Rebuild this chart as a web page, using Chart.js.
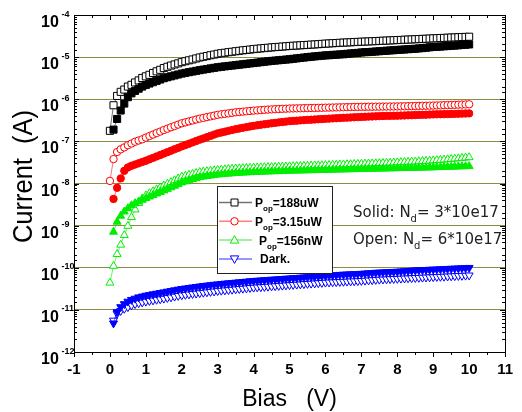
<!DOCTYPE html>
<html>
<head>
<meta charset="utf-8">
<script src="https://cdn.jsdelivr.net/npm/chart.js@4.4.1/dist/chart.umd.min.js"></script>
<style>
  html, body { margin: 0; padding: 0; background: #fff; }
  #wrap { width: 522px; height: 412px; }
</style>
</head>
<body>
<div id="wrap"><canvas id="grafico" width="522" height="412"></canvas></div>
<script>
// ===== DADOS =====
const bias = [
  0, 0.1, 0.2, 0.3, 0.4, 0.5, 0.6, 0.7, 0.8, 0.9,
  1, 1.1, 1.2, 1.3, 1.4, 1.5, 1.6, 1.7, 1.8, 1.9,
  2, 2.1, 2.2, 2.3, 2.4, 2.5, 2.6, 2.7, 2.8, 2.9,
  3, 3.1, 3.2, 3.3, 3.4, 3.5, 3.6, 3.7, 3.8, 3.9,
  4, 4.1, 4.2, 4.3, 4.4, 4.5, 4.6, 4.7, 4.8, 4.9,
  5, 5.1, 5.2, 5.3, 5.4, 5.5, 5.6, 5.7, 5.8, 5.9,
  6, 6.1, 6.2, 6.3, 6.4, 6.5, 6.6, 6.7, 6.8, 6.9,
  7, 7.1, 7.2, 7.3, 7.4, 7.5, 7.6, 7.7, 7.8, 7.9,
  8, 8.1, 8.2, 8.3, 8.4, 8.5, 8.6, 8.7, 8.8, 8.9,
  9, 9.1, 9.2, 9.3, 9.4, 9.5, 9.6, 9.7, 9.8, 9.9,
  10
];

// P_op = 188uW, aberto (Nd = 6*10e17)
const aberto188 = [
  1.78e-7, 7.2e-7, 1.2e-6, 1.5e-6, 1.7e-6, 2.0e-6, 2.2e-6, 2.5e-6, 2.8e-6, 3.2e-6,
  3.5e-6, 3.8e-6, 4.2e-6, 4.6e-6, 5.0e-6, 5.5e-6, 5.9e-6, 6.3e-6, 6.7e-6, 7.1e-6,
  7.6e-6, 8.0e-6, 8.4e-6, 8.8e-6, 9.3e-6, 9.8e-6, 1.02e-5, 1.06e-5, 1.11e-5, 1.15e-5,
  1.2e-5, 1.24e-5, 1.27e-5, 1.31e-5, 1.34e-5, 1.38e-5, 1.41e-5, 1.45e-5, 1.48e-5, 1.51e-5,
  1.55e-5, 1.58e-5, 1.61e-5, 1.64e-5, 1.67e-5, 1.70e-5, 1.73e-5, 1.75e-5, 1.78e-5, 1.81e-5,
  1.84e-5, 1.86e-5, 1.88e-5, 1.91e-5, 1.93e-5, 1.95e-5, 1.98e-5, 2.00e-5, 2.03e-5, 2.06e-5,
  2.09e-5, 2.11e-5, 2.14e-5, 2.16e-5, 2.19e-5, 2.21e-5, 2.23e-5, 2.25e-5, 2.28e-5, 2.30e-5,
  2.32e-5, 2.34e-5, 2.36e-5, 2.38e-5, 2.40e-5, 2.43e-5, 2.45e-5, 2.47e-5, 2.49e-5, 2.52e-5,
  2.54e-5, 2.56e-5, 2.59e-5, 2.61e-5, 2.63e-5, 2.66e-5, 2.68e-5, 2.71e-5, 2.73e-5, 2.76e-5,
  2.79e-5, 2.81e-5, 2.84e-5, 2.86e-5, 2.89e-5, 2.92e-5, 2.94e-5, 2.97e-5, 3.00e-5, 3.02e-5,
  3.05e-5
];
// P_op = 188uW, sólido (Nd = 3*10e17)
const solido188 = [
  null, 1.9e-7, 3.4e-7, 5.4e-7, 7.9e-7, 1.12e-6, 1.38e-6, 1.58e-6, 1.78e-6, 2.0e-6,
  2.19e-6, 2.36e-6, 2.54e-6, 2.73e-6, 2.94e-6, 3.16e-6, 3.33e-6, 3.50e-6, 3.68e-6, 3.87e-6,
  4.07e-6, 4.23e-6, 4.39e-6, 4.55e-6, 4.72e-6, 4.90e-6, 5.06e-6, 5.22e-6, 5.40e-6, 5.57e-6,
  5.75e-6, 5.89e-6, 6.03e-6, 6.17e-6, 6.31e-6, 6.46e-6, 6.61e-6, 6.76e-6, 6.92e-6, 7.08e-6,
  7.24e-6, 7.41e-6, 7.59e-6, 7.76e-6, 7.94e-6, 8.13e-6, 8.28e-6, 8.43e-6, 8.59e-6, 8.75e-6,
  8.91e-6, 9.12e-6, 9.33e-6, 9.55e-6, 9.77e-6, 1.00e-5, 1.02e-5, 1.04e-5, 1.06e-5, 1.08e-5,
  1.10e-5, 1.11e-5, 1.13e-5, 1.14e-5, 1.16e-5, 1.17e-5, 1.20e-5, 1.22e-5, 1.24e-5, 1.26e-5,
  1.29e-5, 1.31e-5, 1.32e-5, 1.34e-5, 1.36e-5, 1.38e-5, 1.40e-5, 1.42e-5, 1.44e-5, 1.46e-5,
  1.48e-5, 1.50e-5, 1.52e-5, 1.54e-5, 1.56e-5, 1.58e-5, 1.61e-5, 1.64e-5, 1.67e-5, 1.71e-5,
  1.74e-5, 1.76e-5, 1.78e-5, 1.81e-5, 1.83e-5, 1.86e-5, 1.88e-5, 1.91e-5, 1.94e-5, 1.97e-5,
  2.00e-5
];
// P_op = 3.15uW
const aberto315 = [
  1.15e-8, 3.8e-8, 5.6e-8, 6.5e-8, 7.2e-8, 8.1e-8, 8.9e-8, 9.8e-8, 1.05e-7, 1.12e-7,
  1.23e-7, 1.34e-7, 1.45e-7, 1.58e-7, 1.71e-7, 1.86e-7, 2.00e-7, 2.16e-7, 2.32e-7, 2.50e-7,
  2.69e-7, 2.83e-7, 2.98e-7, 3.13e-7, 3.30e-7, 3.47e-7, 3.61e-7, 3.77e-7, 3.93e-7, 4.09e-7,
  4.27e-7, 4.39e-7, 4.51e-7, 4.63e-7, 4.76e-7, 4.90e-7, 4.99e-7, 5.08e-7, 5.18e-7, 5.27e-7,
  5.37e-7, 5.45e-7, 5.52e-7, 5.60e-7, 5.68e-7, 5.75e-7, 5.81e-7, 5.86e-7, 5.92e-7, 5.97e-7,
  6.03e-7, 6.06e-7, 6.08e-7, 6.11e-7, 6.14e-7, 6.17e-7, 6.20e-7, 6.22e-7, 6.25e-7, 6.28e-7,
  6.31e-7, 6.34e-7, 6.37e-7, 6.40e-7, 6.43e-7, 6.46e-7, 6.49e-7, 6.52e-7, 6.55e-7, 6.58e-7,
  6.61e-7, 6.62e-7, 6.64e-7, 6.65e-7, 6.67e-7, 6.68e-7, 6.70e-7, 6.71e-7, 6.73e-7, 6.74e-7,
  6.76e-7, 6.79e-7, 6.82e-7, 6.85e-7, 6.88e-7, 6.92e-7, 6.95e-7, 6.98e-7, 7.01e-7, 7.05e-7,
  7.08e-7, 7.13e-7, 7.18e-7, 7.23e-7, 7.28e-7, 7.33e-7, 7.38e-7, 7.43e-7, 7.48e-7, 7.53e-7,
  7.59e-7
];
const solido315 = [
  null, 4.3e-9, 7.9e-9, 1.32e-8, 2.0e-8, 2.4e-8, 2.63e-8, 2.82e-8, 3.02e-8, 3.24e-8,
  3.47e-8, 3.75e-8, 4.06e-8, 4.39e-8, 4.74e-8, 5.13e-8, 5.55e-8, 6.00e-8, 6.49e-8, 7.01e-8,
  7.59e-8, 8.17e-8, 8.79e-8, 9.46e-8, 1.02e-7, 1.10e-7, 1.17e-7, 1.26e-7, 1.35e-7, 1.45e-7,
  1.55e-7, 1.62e-7, 1.70e-7, 1.78e-7, 1.86e-7, 1.95e-7, 2.02e-7, 2.10e-7, 2.18e-7, 2.26e-7,
  2.34e-7, 2.41e-7, 2.48e-7, 2.55e-7, 2.62e-7, 2.69e-7, 2.75e-7, 2.82e-7, 2.88e-7, 2.95e-7,
  3.02e-7, 3.06e-7, 3.10e-7, 3.15e-7, 3.19e-7, 3.24e-7, 3.27e-7, 3.31e-7, 3.35e-7, 3.39e-7,
  3.43e-7, 3.47e-7, 3.51e-7, 3.55e-7, 3.59e-7, 3.63e-7, 3.66e-7, 3.70e-7, 3.73e-7, 3.77e-7,
  3.80e-7, 3.84e-7, 3.87e-7, 3.91e-7, 3.94e-7, 3.98e-7, 4.00e-7, 4.02e-7, 4.04e-7, 4.06e-7,
  4.07e-7, 4.10e-7, 4.13e-7, 4.16e-7, 4.18e-7, 4.22e-7, 4.25e-7, 4.27e-7, 4.30e-7, 4.33e-7,
  4.37e-7, 4.39e-7, 4.41e-7, 4.43e-7, 4.45e-7, 4.47e-7, 4.50e-7, 4.53e-7, 4.56e-7, 4.59e-7,
  4.62e-7
];
// P_op = 156nW
const aberto156 = [
  4.4e-11, 1.10e-10, 2.1e-10, 3.5e-10, 5.9e-10, 9.8e-10, 1.58e-9, 2.4e-9, 3.4e-9, 4.4e-9,
  5.2e-9, 5.83e-9, 6.49e-9, 7.21e-9, 8.02e-9, 8.91e-9, 9.82e-9, 1.08e-8, 1.19e-8, 1.31e-8,
  1.45e-8, 1.52e-8, 1.60e-8, 1.68e-8, 1.77e-8, 1.86e-8, 1.91e-8, 1.95e-8, 2.00e-8, 2.04e-8,
  2.09e-8, 2.12e-8, 2.16e-8, 2.19e-8, 2.23e-8, 2.26e-8, 2.28e-8, 2.30e-8, 2.33e-8, 2.35e-8,
  2.37e-8, 2.39e-8, 2.40e-8, 2.42e-8, 2.44e-8, 2.45e-8, 2.47e-8, 2.49e-8, 2.50e-8, 2.52e-8,
  2.54e-8, 2.56e-8, 2.58e-8, 2.59e-8, 2.61e-8, 2.63e-8, 2.65e-8, 2.67e-8, 2.69e-8, 2.70e-8,
  2.72e-8, 2.74e-8, 2.76e-8, 2.78e-8, 2.80e-8, 2.82e-8, 2.84e-8, 2.86e-8, 2.88e-8, 2.90e-8,
  2.92e-8, 2.94e-8, 2.96e-8, 2.98e-8, 3.00e-8, 3.02e-8, 3.05e-8, 3.08e-8, 3.10e-8, 3.13e-8,
  3.16e-8, 3.19e-8, 3.22e-8, 3.25e-8, 3.28e-8, 3.31e-8, 3.35e-8, 3.39e-8, 3.43e-8, 3.47e-8,
  3.51e-8, 3.56e-8, 3.62e-8, 3.68e-8, 3.74e-8, 3.80e-8, 3.87e-8, 3.94e-8, 4.02e-8, 4.09e-8,
  4.17e-8
];
const solido156 = [
  null, 7.1e-10, 1.23e-9, 1.70e-9, 2.14e-9, 2.57e-9, 3.02e-9, 3.39e-9, 3.72e-9, 4.07e-9,
  4.47e-9, 4.85e-9, 5.27e-9, 5.73e-9, 6.22e-9, 6.76e-9, 7.38e-9, 8.05e-9, 8.79e-9, 9.59e-9,
  1.05e-8, 1.11e-8, 1.18e-8, 1.25e-8, 1.33e-8, 1.41e-8, 1.45e-8, 1.49e-8, 1.53e-8, 1.58e-8,
  1.62e-8, 1.65e-8, 1.68e-8, 1.70e-8, 1.73e-8, 1.76e-8, 1.78e-8, 1.80e-8, 1.82e-8, 1.84e-8,
  1.86e-8, 1.87e-8, 1.89e-8, 1.90e-8, 1.91e-8, 1.93e-8, 1.94e-8, 1.95e-8, 1.97e-8, 1.98e-8,
  2.00e-8, 2.00e-8, 2.01e-8, 2.02e-8, 2.03e-8, 2.04e-8, 2.05e-8, 2.06e-8, 2.07e-8, 2.08e-8,
  2.09e-8, 2.10e-8, 2.11e-8, 2.12e-8, 2.13e-8, 2.14e-8, 2.15e-8, 2.16e-8, 2.17e-8, 2.18e-8,
  2.19e-8, 2.20e-8, 2.21e-8, 2.22e-8, 2.23e-8, 2.24e-8, 2.25e-8, 2.26e-8, 2.27e-8, 2.28e-8,
  2.29e-8, 2.30e-8, 2.31e-8, 2.32e-8, 2.33e-8, 2.34e-8, 2.35e-8, 2.36e-8, 2.37e-8, 2.39e-8,
  2.40e-8, 2.42e-8, 2.43e-8, 2.45e-8, 2.47e-8, 2.48e-8, 2.50e-8, 2.52e-8, 2.54e-8, 2.55e-8,
  2.57e-8
];
// Escuro (Dark.)
const abertoDark = [
  null, 5.6e-12, 8.1e-12, 9.5e-12, 1.07e-11, 1.17e-11, 1.29e-11, 1.38e-11, 1.45e-11, 1.51e-11,
  1.58e-11, 1.64e-11, 1.69e-11, 1.75e-11, 1.80e-11, 1.86e-11, 1.93e-11, 2.00e-11, 2.08e-11, 2.16e-11,
  2.24e-11, 2.29e-11, 2.34e-11, 2.40e-11, 2.45e-11, 2.51e-11, 2.57e-11, 2.63e-11, 2.69e-11, 2.75e-11,
  2.82e-11, 2.87e-11, 2.92e-11, 2.97e-11, 3.03e-11, 3.09e-11, 3.15e-11, 3.20e-11, 3.26e-11, 3.33e-11,
  3.39e-11, 3.44e-11, 3.48e-11, 3.53e-11, 3.58e-11, 3.63e-11, 3.68e-11, 3.73e-11, 3.78e-11, 3.84e-11,
  3.89e-11, 3.94e-11, 4.00e-11, 4.05e-11, 4.11e-11, 4.17e-11, 4.22e-11, 4.28e-11, 4.34e-11, 4.40e-11,
  4.47e-11, 4.51e-11, 4.55e-11, 4.59e-11, 4.63e-11, 4.68e-11, 4.72e-11, 4.76e-11, 4.81e-11, 4.85e-11,
  4.90e-11, 4.97e-11, 5.03e-11, 5.11e-11, 5.18e-11, 5.25e-11, 5.30e-11, 5.35e-11, 5.40e-11, 5.45e-11,
  5.50e-11, 5.55e-11, 5.60e-11, 5.65e-11, 5.70e-11, 5.75e-11, 5.81e-11, 5.86e-11, 5.91e-11, 5.97e-11,
  6.03e-11, 6.08e-11, 6.14e-11, 6.19e-11, 6.25e-11, 6.31e-11, 6.37e-11, 6.43e-11, 6.48e-11, 6.54e-11,
  6.61e-11
];
const solidoDark = [
  null, 4.8e-12, 8.9e-12, 1.17e-11, 1.38e-11, 1.58e-11, 1.74e-11, 1.86e-11, 2.00e-11, 2.09e-11,
  2.19e-11, 2.27e-11, 2.36e-11, 2.44e-11, 2.54e-11, 2.63e-11, 2.73e-11, 2.83e-11, 2.94e-11, 3.05e-11,
  3.16e-11, 3.25e-11, 3.34e-11, 3.44e-11, 3.53e-11, 3.63e-11, 3.72e-11, 3.80e-11, 3.89e-11, 3.98e-11,
  4.07e-11, 4.15e-11, 4.23e-11, 4.31e-11, 4.39e-11, 4.47e-11, 4.55e-11, 4.64e-11, 4.72e-11, 4.81e-11,
  4.90e-11, 4.97e-11, 5.03e-11, 5.11e-11, 5.18e-11, 5.25e-11, 5.32e-11, 5.40e-11, 5.47e-11, 5.55e-11,
  5.62e-11, 5.70e-11, 5.78e-11, 5.86e-11, 5.94e-11, 6.03e-11, 6.11e-11, 6.19e-11, 6.28e-11, 6.37e-11,
  6.46e-11, 6.55e-11, 6.64e-11, 6.73e-11, 6.83e-11, 6.92e-11, 6.98e-11, 7.05e-11, 7.11e-11, 7.18e-11,
  7.24e-11, 7.35e-11, 7.45e-11, 7.55e-11, 7.66e-11, 7.76e-11, 7.83e-11, 7.90e-11, 7.98e-11, 8.05e-11,
  8.13e-11, 8.24e-11, 8.36e-11, 8.47e-11, 8.59e-11, 8.71e-11, 8.79e-11, 8.87e-11, 8.95e-11, 9.04e-11,
  9.12e-11, 9.20e-11, 9.29e-11, 9.38e-11, 9.46e-11, 9.55e-11, 9.64e-11, 9.73e-11, 9.82e-11, 9.91e-11,
  1.00e-10
];

// rótulos
const expoentesY = [-4, -5, -6, -7, -8, -9, -10, -11, -12];
const tituloY = 'Current  (A)';
const legendaTextos = ['=188uW', '=3.15uW', '=156nW', 'Dark.'];
const legendaSub = ['op', 'op', 'op', ''];
const notas = [['Solid: N', 'd', '= 3*10e17'], ['Open: N', 'd', '= 6*10e17']];

const fonte = '"Liberation Sans", Arial, sans-serif';

// estilo de cada série (cor, marcador)
const estilos = [
  { dados: aberto188,  forma: 'rect',     cor: '#000000', linha: 'rgba(0,0,0,0.55)',   cheio: false, raio: 5,   rot: 0 },
  { dados: solido188,  forma: 'rect',     cor: '#000000', linha: 'rgba(0,0,0,0.55)',   cheio: true,  raio: 5,   rot: 0 },
  { dados: aberto315,  forma: 'circle',   cor: '#ff0000', linha: 'rgba(255,0,0,0.55)', cheio: false, raio: 3.7, rot: 0 },
  { dados: solido315,  forma: 'circle',   cor: '#ff0000', linha: 'rgba(255,0,0,0.55)', cheio: true,  raio: 3.7, rot: 0 },
  { dados: aberto156,  forma: 'triangle', cor: '#00ee00', linha: 'rgba(0,230,0,0.6)',  cheio: false, raio: 4.6, rot: 0 },
  { dados: solido156,  forma: 'triangle', cor: '#00ee00', linha: 'rgba(0,230,0,0.6)',  cheio: true,  raio: 4.6, rot: 0 },
  { dados: abertoDark, forma: 'triangle', cor: '#0000ff', linha: 'rgba(0,0,255,0.55)', cheio: false, raio: 4.6, rot: 180 },
  { dados: solidoDark, forma: 'triangle', cor: '#0000ff', linha: 'rgba(0,0,255,0.55)', cheio: true,  raio: 4.6, rot: 180 }
];

const datasets = estilos.map(s => ({
  data: bias.map((v, i) => ({ x: v, y: s.dados[i] })),
  showLine: true,
  borderColor: s.linha,
  borderWidth: 1,
  pointStyle: s.forma,
  pointRadius: s.raio,
  pointRotation: s.rot,
  pointBackgroundColor: s.cheio ? s.cor : '#ffffff',
  pointBorderColor: s.cor,
  pointBorderWidth: 1,
  order: s.cheio ? 1 : 2
}));

// marcador pequeno da legenda
function marcador(ctx, forma, x, y, cor) {
  ctx.beginPath();
  if (forma === 'rect') ctx.rect(x - 3.5, y - 3.5, 7, 7);
  else if (forma === 'circle') ctx.arc(x, y, 3.7, 0, Math.PI * 2);
  else if (forma === 'up') { ctx.moveTo(x, y - 4.5); ctx.lineTo(x + 4.2, y + 3); ctx.lineTo(x - 4.2, y + 3); ctx.closePath(); }
  else { ctx.moveTo(x, y + 4.5); ctx.lineTo(x + 4.2, y - 3); ctx.lineTo(x - 4.2, y - 3); ctx.closePath(); }
  ctx.fillStyle = '#fff';
  ctx.fill();
  ctx.strokeStyle = cor;
  ctx.lineWidth = 1;
  ctx.stroke();
}

// ===== moldura, ticks, rótulos do eixo Y, legenda e notas =====
const decoracao = {
  id: 'decoracao',
  afterDraw(chart) {
    const ctx = chart.ctx;
    const a = chart.chartArea;
    const x = chart.scales.x;
    const y = chart.scales.y;
    ctx.save();

    // moldura
    ctx.strokeStyle = '#000';
    ctx.lineWidth = 1;
    ctx.strokeRect(Math.round(a.left) + 0.5, Math.round(a.top) + 0.5, Math.round(a.right - a.left), Math.round(a.bottom - a.top));

    // ticks do eixo X (inteiros e meios)
    ctx.beginPath();
    x.ticks.forEach((t, i) => {
      const px = Math.round(x.getPixelForValue(t.value)) + 0.5;
      ctx.moveTo(px, a.bottom); ctx.lineTo(px, a.bottom + 5);
      ctx.moveTo(px, a.top); ctx.lineTo(px, a.top + 5);
      if (i < x.ticks.length - 1) {
        const pm = Math.round(x.getPixelForValue((t.value + x.ticks[i + 1].value) / 2)) + 0.5;
        ctx.moveTo(pm, a.bottom); ctx.lineTo(pm, a.bottom + 3);
        ctx.moveTo(pm, a.top); ctx.lineTo(pm, a.top + 3);
      }
    });
    // ticks do eixo Y (log)
    y.ticks.forEach(t => {
      const e = Math.log10(t.value);
      const maior = Math.abs(e - Math.round(e)) < 1e-6;
      const len = maior ? 5 : 3;
      const py = Math.round(y.getPixelForValue(t.value)) + 0.5;
      ctx.moveTo(a.left, py); ctx.lineTo(a.left + len, py);
      ctx.moveTo(a.right, py); ctx.lineTo(a.right - len, py);
    });
    ctx.stroke();

    // rótulos 10^n
    ctx.fillStyle = '#000';
    ctx.textAlign = 'left';
    ctx.textBaseline = 'alphabetic';
    expoentesY.forEach(k => {
      const py = y.getPixelForValue(Math.pow(10, k));
      ctx.font = 'bold 16px ' + fonte;
      ctx.fillText('10', 41, py + 12);
      ctx.font = 'bold 9px ' + fonte;
      ctx.fillText(String(k), 61.5, py + 1.5);
    });

    // título do eixo Y (fonte um pouco estreitada, como no original)
    ctx.save();
    ctx.translate(32, 176.5);
    ctx.rotate(-Math.PI / 2);
    ctx.scale(0.91, 1);
    ctx.font = '28px ' + fonte;
    ctx.textAlign = 'center';
    ctx.fillText(tituloY, 0, 0);
    ctx.restore();

    // legenda
    ctx.textAlign = 'left';
    ctx.fillStyle = '#fff';
    ctx.fillRect(217.5, 186.5, 115, 87);
    ctx.strokeStyle = '#222';
    ctx.strokeRect(217.5, 186.5, 115, 87);
    const formas = ['rect', 'circle', 'up', 'down'];
    const cores = ['#000000', '#ff0000', '#00ee00', '#0000ff'];
    const linhas = ['rgba(0,0,0,0.55)', 'rgba(255,0,0,0.5)', 'rgba(0,220,0,0.5)', 'rgba(0,0,255,0.55)'];
    const textoX = [255, 255, 259, 260];
    legendaTextos.forEach((txt, i) => {
      const cy = 202.5 + i * 18.8;
      ctx.strokeStyle = linhas[i];
      ctx.lineWidth = 1.5;
      ctx.beginPath();
      ctx.moveTo(219, cy); ctx.lineTo(252, cy);
      ctx.stroke();
      marcador(ctx, formas[i], 234.5, cy, cores[i]);
      ctx.fillStyle = '#000';
      let tx = textoX[i];
      if (legendaSub[i]) {
        ctx.font = 'bold 12px ' + fonte;
        ctx.fillText('P', tx, cy + 4.5);
        tx += ctx.measureText('P').width;
        ctx.font = 'bold 8px ' + fonte;
        ctx.fillText(legendaSub[i], tx, cy + 8.5);
        tx += ctx.measureText(legendaSub[i]).width;
      }
      ctx.font = 'bold 12px ' + fonte;
      ctx.fillText(txt, tx, cy + 4.5);
    });

    // notas Solid / Open
    ctx.fillStyle = '#222';
    notas.forEach((n, i) => {
      const by = 216.5 + i * 27.5;
      let tx = 353;
      ctx.font = '15px "DejaVu Sans", sans-serif';
      ctx.fillText(n[0], tx, by);
      tx += ctx.measureText(n[0]).width;
      ctx.font = '10px "DejaVu Sans", sans-serif';
      ctx.fillText(n[1], tx, by + 5);
      tx += ctx.measureText(n[1]).width;
      ctx.font = '15px "DejaVu Sans", sans-serif';
      ctx.fillText(n[2], tx, by);
    });

    ctx.restore();
  }
};

// ===== Gráfico =====
const ctxGrafico = document.getElementById('grafico').getContext('2d');
const grafico = new Chart(ctxGrafico, {
  type: 'scatter',
  data: { datasets: datasets },
  options: {
    responsive: false,
    devicePixelRatio: 1,
    animation: false,
    layout: { padding: { top: 15, right: 8, left: 0, bottom: 0 } },
    plugins: {
      legend: { display: false },
      tooltip: { enabled: false }
    },
    scales: {
      x: {
        type: 'linear',
        min: -1,
        max: 11,
        ticks: {
          stepSize: 1,
          color: '#000',
          font: { family: fonte, size: 15, weight: 'bold' },
          padding: 9,
          maxRotation: 0,
          autoSkip: false
        },
        grid: { display: false, drawTicks: false },
        border: { display: false },
        title: {
          display: true,
          text: 'Bias   (V)',
          color: '#000',
          font: { family: fonte, size: 23, lineHeight: 1.1 },
          padding: 0
        },
        afterFit: s => { s.height = 60; }
      },
      y: {
        type: 'logarithmic',
        min: 1e-12,
        max: 1e-4,
        ticks: { display: false },
        grid: {
          drawTicks: false,
          lineWidth: 1,
          color: c => {
            const v = c.tick ? c.tick.value : 0;
            const e = Math.log10(v);
            const decada = Math.abs(e - Math.round(e)) < 1e-6;
            return (decada && e > -11.5 && e < -4.5) ? '#8c8c42' : 'rgba(0,0,0,0)';
          }
        },
        border: { display: false },
        title: { display: false },
        afterFit: s => { s.width = 74; }
      }
    }
  },
  plugins: [decoracao]
});
</script>
</body>
</html>
